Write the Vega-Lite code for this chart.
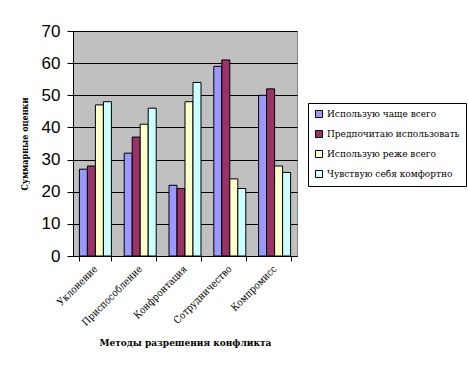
{
  "$schema": "https://vega.github.io/schema/vega-lite/v6.json",
  "autosize": "none",
  "width": 224,
  "height": 225,
  "padding": {"left": 73, "top": 31, "right": 171, "bottom": 115},
  "background": "white",
  "data": {
    "values": [
      {"method": "Уклонение", "series": "Использую чаще всего", "value": 27},
      {"method": "Уклонение", "series": "Предпочитаю использовать", "value": 28},
      {"method": "Уклонение", "series": "Использую реже всего", "value": 47},
      {"method": "Уклонение", "series": "Чувствую себя комфортно", "value": 48},
      {"method": "Приспособление", "series": "Использую чаще всего", "value": 32},
      {"method": "Приспособление", "series": "Предпочитаю использовать", "value": 37},
      {"method": "Приспособление", "series": "Использую реже всего", "value": 41},
      {"method": "Приспособление", "series": "Чувствую себя комфортно", "value": 46},
      {"method": "Конфронтация", "series": "Использую чаще всего", "value": 22},
      {"method": "Конфронтация", "series": "Предпочитаю использовать", "value": 21},
      {"method": "Конфронтация", "series": "Использую реже всего", "value": 48},
      {"method": "Конфронтация", "series": "Чувствую себя комфортно", "value": 54},
      {"method": "Сотрудничество", "series": "Использую чаще всего", "value": 59},
      {"method": "Сотрудничество", "series": "Предпочитаю использовать", "value": 61},
      {"method": "Сотрудничество", "series": "Использую реже всего", "value": 24},
      {"method": "Сотрудничество", "series": "Чувствую себя комфортно", "value": 21},
      {"method": "Компромисс", "series": "Использую чаще всего", "value": 50},
      {"method": "Компромисс", "series": "Предпочитаю использовать", "value": 52},
      {"method": "Компромисс", "series": "Использую реже всего", "value": 28},
      {"method": "Компромисс", "series": "Чувствую себя комфортно", "value": 26}
    ]
  },
  "mark": {"type": "bar", "stroke": "black", "strokeWidth": 1},
  "encoding": {
    "x": {
      "field": "method",
      "type": "nominal",
      "sort": null,
      "scale": {"paddingInner": 0.2857, "paddingOuter": 0.143},
      "axis": {
        "title": "Методы разрешения конфликта",
        "titleFont": "DejaVu Serif Condensed, DejaVu Serif, serif",
        "titleFontSize": 10,
        "titleFontWeight": "bold",
        "titleColor": "black",
        "titlePadding": 10,
        "labelAngle": -45,
        "labelAlign": "right",
        "labelBaseline": "middle",
        "labelFont": "DejaVu Serif Condensed, DejaVu Serif, serif",
        "labelFontSize": 10,
        "labelColor": "black",
        "labelPadding": 6,
        "tickBand": "extent",
        "tickColor": "black",
        "tickSize": 5,
        "domainColor": "black",
        "grid": false
      }
    },
    "xOffset": {
      "field": "series",
      "type": "nominal",
      "sort": ["Использую чаще всего", "Предпочитаю использовать", "Использую реже всего", "Чувствую себя комфортно"],
      "scale": {"paddingInner": 0, "paddingOuter": 0}
    },
    "y": {
      "field": "value",
      "type": "quantitative",
      "scale": {"domain": [0, 70], "nice": false},
      "axis": {
        "title": "Суммарные оценки",
        "titleFont": "DejaVu Serif Condensed, DejaVu Serif, serif",
        "titleFontSize": 9,
        "titleFontWeight": "bold",
        "titleColor": "black",
        "titlePadding": 12,
        "values": [0, 10, 20, 30, 40, 50, 60, 70],
        "labelFont": "Liberation Sans, Arial, sans-serif",
        "labelFontSize": 17,
        "labelColor": "black",
        "labelPadding": 7,
        "tickColor": "black",
        "tickSize": 6,
        "domainColor": "black",
        "grid": true,
        "gridColor": "black",
        "gridWidth": 1,
        "gridOpacity": 1
      }
    },
    "color": {
      "field": "series",
      "type": "nominal",
      "sort": ["Использую чаще всего", "Предпочитаю использовать", "Использую реже всего", "Чувствую себя комфортно"],
      "scale": {
        "domain": ["Использую чаще всего", "Предпочитаю использовать", "Использую реже всего", "Чувствую себя комфортно"],
        "range": ["#9999FF", "#993366", "#FFFFCC", "#CCFFFF"]
      },
      "legend": {
        "title": null,
        "orient": "none",
        "legendX": 235,
        "legendY": 72,
        "strokeColor": "black",
        "fillColor": "white",
        "padding": 6,
        "symbolType": "square",
        "symbolSize": 50,
        "symbolStrokeColor": "black",
        "symbolStrokeWidth": 1,
        "symbolOpacity": 1,
        "labelFont": "DejaVu Serif Condensed, DejaVu Serif, serif",
        "labelFontSize": 10,
        "labelColor": "black",
        "labelLimit": 300,
        "labelOffset": 3,
        "rowPadding": 8
      }
    }
  },
  "config": {
    "view": {"fill": "#C0C0C0", "stroke": "#808080", "strokeWidth": 1}
  }
}
